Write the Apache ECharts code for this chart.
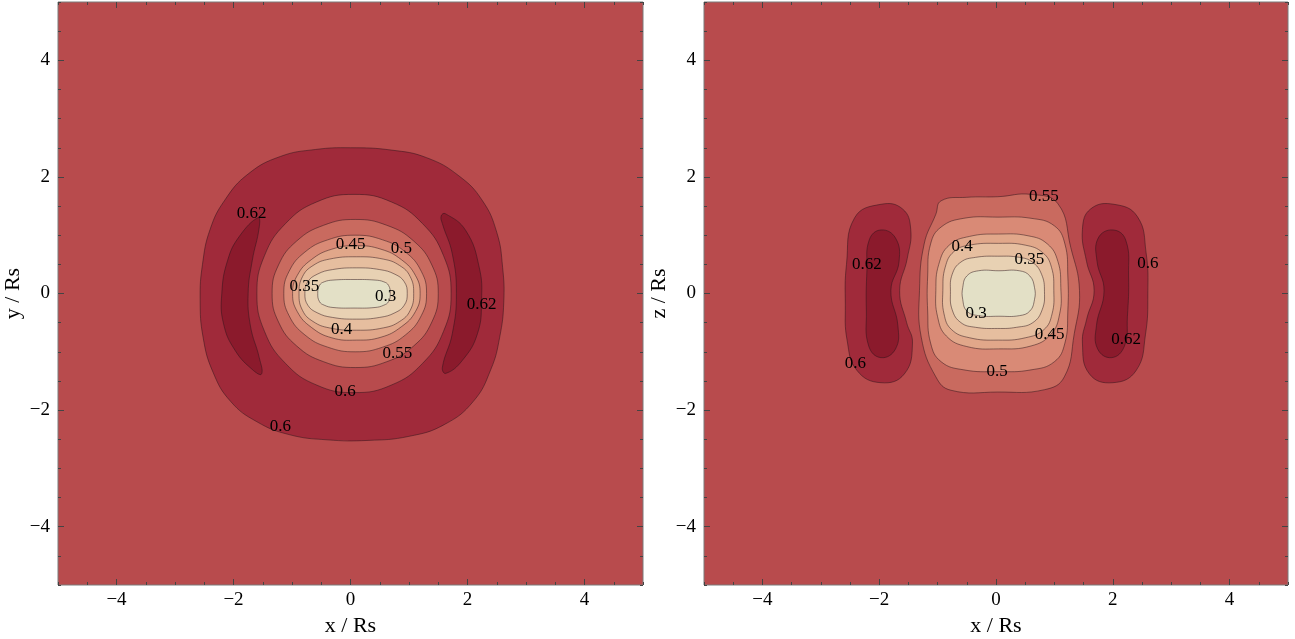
<!DOCTYPE html>
<html><head><meta charset="utf-8">
<script src="https://cdn.jsdelivr.net/npm/echarts@6/dist/echarts.min.js"></script>
<style>html,body{margin:0;padding:0;background:#fff}#c{width:1295px;height:639px}</style>
</head><body><div id="c"></div>
<script>
// ---------- data ----------
const TICK_VALUES = [-4, -2, 0, 2, 4];
const CONTOUR_LEVELS = [0.3, 0.35, 0.4, 0.45, 0.5, 0.55, 0.6, 0.62];

// Left panel (x / Rs vs y / Rs) contour polygons, data units
const L_OUT60 = [[0,2.5],[0.7,2.46],[1.3,2.33],[1.85,2.02],[2.25,1.6],[2.5,1.05],[2.6,0.45],[2.62,-0.15],[2.55,-0.75],[2.4,-1.3],[2.1,-1.85],[1.6,-2.25],[1.0,-2.45],[0.3,-2.52],[-0.4,-2.51],[-1.05,-2.42],[-1.6,-2.2],[-2.05,-1.85],[-2.35,-1.35],[-2.52,-0.75],[-2.57,-0.1],[-2.53,0.5],[-2.4,1.1],[-2.15,1.6],[-1.75,2.05],[-1.2,2.35],[-0.6,2.47]];
const L_CRES_W = [[-1.58,1.3],[-1.9,0.98],[-2.1,0.57],[-2.2,0.0],[-2.17,-0.52],[-1.97,-0.98],[-1.66,-1.32],[-1.52,-1.38],[-1.56,-1.1],[-1.71,-0.56],[-1.75,0],[-1.68,0.56],[-1.56,1.14]];
const L_CRES_E = [[1.55,1.33],[1.62,1.37],[1.97,1.08],[2.2,0.45],[2.24,-0.12],[2.17,-0.69],[1.91,-1.15],[1.63,-1.37],[1.57,-1.27],[1.74,-0.69],[1.81,0],[1.74,0.68],[1.57,1.2]];
const L_IN60 = [[1.72,0],[1.59,0.65],[1.23,1.2],[0.7,1.57],[0.06,1.7],[-0.58,1.57],[-1.11,1.2],[-1.47,0.65],[-1.6,0],[-1.47,-0.65],[-1.11,-1.2],[-0.58,-1.57],[0.06,-1.7],[0.7,-1.57],[1.23,-1.2],[1.59,-0.65]];
const L_55 = [[1.50,0],[1.39,0.49],[1.08,0.90],[0.62,1.17],[0.08,1.27],[-0.46,1.17],[-0.92,0.90],[-1.23,0.49],[-1.34,0],[-1.23,-0.49],[-0.92,-0.90],[-0.46,-1.17],[0.08,-1.27],[0.62,-1.17],[1.08,-0.90],[1.39,-0.49]];
const L_50 = [[1.30,0],[1.21,0.38],[0.94,0.71],[0.55,0.92],[0.08,1.0],[-0.39,0.92],[-0.78,0.71],[-1.05,0.38],[-1.14,0],[-1.05,-0.38],[-0.78,-0.71],[-0.39,-0.92],[0.08,-1.0],[0.55,-0.92],[0.94,-0.71],[1.21,-0.38]];
const L_45 = [[1.19,0],[1.11,0.31],[0.87,0.58],[0.52,0.76],[0.1,0.82],[-0.32,0.76],[-0.67,0.58],[-0.91,0.31],[-0.99,0],[-0.91,-0.31],[-0.67,-0.58],[-0.32,-0.76],[0.1,-0.8],[0.52,-0.75],[0.87,-0.57],[1.11,-0.31]];
const L_40 = [[1.08,0],[1.02,0.29],[0.84,0.48],[0.56,0.59],[0.1,0.63],[-0.36,0.59],[-0.64,0.48],[-0.82,0.29],[-0.88,0],[-0.82,-0.29],[-0.64,-0.48],[-0.36,-0.59],[0.1,-0.63],[0.56,-0.59],[0.84,-0.48],[1.02,-0.29]];
const L_35 = [[0.97,0],[0.92,0.2],[0.76,0.33],[0.5,0.41],[0.1,0.44],[-0.31,0.41],[-0.57,0.33],[-0.73,0.2],[-0.78,0],[-0.73,-0.2],[-0.57,-0.33],[-0.31,-0.41],[0.1,-0.44],[0.5,-0.41],[0.76,-0.33],[0.92,-0.2]];
const L_30 = [[0.68,0],[0.65,0.14],[0.57,0.2],[0.42,0.23],[0.06,0.24],[-0.3,0.23],[-0.45,0.2],[-0.53,0.14],[-0.56,0],[-0.53,-0.14],[-0.45,-0.2],[-0.3,-0.24],[0.06,-0.25],[0.42,-0.24],[0.57,-0.2],[0.65,-0.14]];
const LEFT_SHAPES = [L_OUT60, L_CRES_W, L_CRES_E, L_IN60, L_55, L_50, L_45, L_40, L_35, L_30];
const LEFT_LEVELS = [0.6, 0.62, 0.62, 0.6, 0.55, 0.5, 0.45, 0.4, 0.35, 0.3];
const LEFT_INWARD = ['up', 'up', 'up', 'down', 'down', 'down', 'down', 'down', 'down', 'down'];
const LEFT_LABEL_TEXT = ['0.62', '0.45', '0.5', '0.35', '0.3', '0.62', '0.4', '0.55', '0.6', '0.6'];
const LEFT_LABEL_X = [-1.69, 0.0, 0.87, -0.79, 0.6, 2.24, -0.15, 0.8, -0.09, -1.2];
const LEFT_LABEL_Y = [1.37, 0.84, 0.77, 0.12, -0.05, -0.19, -0.62, -1.03, -1.68, -2.29];

// Right panel (x / Rs vs z / Rs)
const R_LOBE_W60 = [[-1.97,1.53],[-1.6,1.45],[-1.46,1.1],[-1.52,0.6],[-1.65,0.05],[-1.53,-0.5],[-1.43,-0.85],[-1.57,-1.38],[-1.97,-1.53],[-2.38,-1.32],[-2.55,-0.8],[-2.58,-0.2],[-2.56,0.5],[-2.42,1.3]];
const R_LOBE_W62 = [[-1.97,1.09],[-1.72,0.95],[-1.66,0.55],[-1.8,0.05],[-1.68,-0.55],[-1.72,-0.95],[-1.97,-1.1],[-2.18,-0.9],[-2.22,-0.3],[-2.21,0.4],[-2.17,0.92]];
const R_LOBE_E60 = [[2.02,1.53],[2.42,1.32],[2.57,0.7],[2.6,0],[2.56,-0.7],[2.4,-1.32],[2.0,-1.53],[1.6,-1.38],[1.48,-0.85],[1.55,-0.45],[1.68,0.05],[1.55,0.55],[1.48,1.1],[1.62,1.45]];
const R_LOBE_E62 = [[2.0,1.09],[2.22,0.92],[2.27,0.3],[2.25,-0.4],[2.2,-0.9],[1.98,-1.1],[1.74,-0.95],[1.72,-0.55],[1.85,0.05],[1.73,0.55],[1.75,0.95]];
const R_55 = [[0.03,1.66],[0.6,1.70],[1.06,1.54],[1.28,0.79],[1.43,0.05],[1.34,-0.69],[1.17,-1.43],[0.83,-1.65],[0.03,-1.69],[-0.77,-1.66],[-1.03,-1.43],[-1.28,-0.75],[-1.31,0.05],[-1.23,0.85],[-1.03,1.36],[-0.94,1.59],[-0.5,1.65]];
const R_50 = [[0.03,1.31],[0.6,1.29],[1.0,1.16],[1.18,0.85],[1.23,0.3],[1.23,-0.3],[1.18,-0.85],[1.0,-1.17],[0.6,-1.31],[0.03,-1.34],[-0.55,-1.31],[-0.94,-1.17],[-1.12,-0.85],[-1.17,-0.3],[-1.17,0.3],[-1.12,0.85],[-0.94,1.14],[-0.55,1.29]];
const R_45 = [[0.04,1.02],[0.55,0.99],[0.88,0.85],[1.06,0.55],[1.11,0.1],[1.09,-0.35],[0.94,-0.70],[0.6,-0.9],[0.04,-0.95],[-0.5,-0.91],[-0.85,-0.73],[-1.0,-0.4],[-1.03,0.05],[-0.98,0.5],[-0.8,0.83],[-0.45,0.98]];
const R_40 = [[0.04,0.86],[0.5,0.83],[0.8,0.7],[0.95,0.45],[0.99,0.05],[0.96,-0.35],[0.82,-0.62],[0.5,-0.76],[0.04,-0.8],[-0.45,-0.76],[-0.76,-0.62],[-0.89,-0.35],[-0.91,0.05],[-0.87,0.45],[-0.72,0.72],[-0.45,0.83]];
const R_35 = [[0.03,0.64],[0.4,0.62],[0.62,0.54],[0.78,0.33],[0.83,0.03],[0.79,-0.28],[0.63,-0.5],[0.35,-0.58],[0.03,-0.6],[-0.35,-0.58],[-0.6,-0.5],[-0.75,-0.28],[-0.78,0.03],[-0.75,0.33],[-0.6,0.54],[-0.35,0.62]];
const R_30 = [[0.05,0.39],[0.4,0.39],[0.58,0.3],[0.66,0.1],[0.66,-0.1],[0.58,-0.3],[0.4,-0.38],[0.05,-0.39],[-0.3,-0.38],[-0.5,-0.3],[-0.57,-0.1],[-0.57,0.1],[-0.5,0.3],[-0.3,0.39]];
const RIGHT_SHAPES = [R_LOBE_W60, R_LOBE_W62, R_LOBE_E60, R_LOBE_E62, R_55, R_50, R_45, R_40, R_35, R_30];
const RIGHT_LEVELS = [0.6, 0.62, 0.6, 0.62, 0.55, 0.5, 0.45, 0.4, 0.35, 0.3];
const RIGHT_INWARD = ['up', 'up', 'up', 'up', 'down', 'down', 'down', 'down', 'down', 'down'];
const RIGHT_LABEL_TEXT = ['0.55', '0.4', '0.62', '0.35', '0.6', '0.3', '0.45', '0.62', '0.6', '0.5'];
const RIGHT_LABEL_X = [0.82, -0.58, -2.21, 0.57, 2.6, -0.34, 0.92, 2.23, -2.41, 0.02];
const RIGHT_LABEL_Y = [1.66, 0.80, 0.50, 0.58, 0.51, -0.34, -0.70, -0.79, -1.2, -1.34];

// ---------- style ----------
const BAND_COLORS = ['#E3E0C6', '#E8D1B3', '#E6BE9F', '#E1A78A', '#D98A76', '#C96A5F', '#B84B4D', '#A02A3A', '#8B1A2C'];
const LINE_COLOR = 'rgba(45,20,25,0.5)';
const FONT = '"Liberation Serif", "DejaVu Serif", serif';

function colorFor(v) {
  let idx = 0;
  CONTOUR_LEVELS.forEach(l => { if (v > l) idx++; });
  return BAND_COLORS[idx];
}
function fmt(v) { return v < 0 ? '\u2212' + Math.abs(v) : String(v); }

function contourSeries(g, shapes, levels, inward) {
  return {
    type: 'custom', xAxisIndex: g * 4, yAxisIndex: g * 4, silent: true, z: 2,
    data: shapes.map((s, i) => ({ value: [s[0][0], s[0][1]] })),
    renderItem: function (params, api) {
      const i = params.dataIndex;
      const pts = shapes[i].map(p => api.coord(p));
      const v = levels[i] + (inward[i] === 'up' ? 0.001 : -0.001);
      return {
        type: 'polygon',
        shape: { points: pts, smooth: 0.45 },
        style: { fill: colorFor(v), stroke: LINE_COLOR, lineWidth: 1 }
      };
    }
  };
}
function labelSeries(g, xs, ys, texts) {
  return {
    type: 'custom', xAxisIndex: g * 4, yAxisIndex: g * 4, silent: true, z: 3,
    data: xs.map((x, i) => [x, ys[i]]),
    renderItem: function (params, api) {
      const p = api.coord([api.value(0), api.value(1)]);
      return {
        type: 'text', x: p[0], y: p[1],
        style: { text: texts[params.dataIndex], fill: '#000', font: '17px ' + FONT, align: 'center', verticalAlign: 'middle' }
      };
    }
  };
}

function axisSet(dim, g, name) {
  const posMain = dim === 'x' ? 'bottom' : 'left';
  const posOpp = dim === 'x' ? 'top' : 'right';
  const base = { gridIndex: g, type: 'value', min: -5, max: 5, interval: 0.5, splitLine: { show: false }, axisLine: { show: false, onZero: false } };
  const tickStyle = { color: '#444', width: 1 };
  const arr = [];
  arr.push(Object.assign({}, base, {
    position: posMain,
    axisTick: { show: true, inside: true, length: 3, lineStyle: tickStyle },
    axisLabel: { show: true, customValues: TICK_VALUES, formatter: fmt, fontFamily: FONT, fontSize: 19, color: '#000', margin: dim === 'x' ? 6 : 8 },
    name: name, nameLocation: 'middle', nameGap: dim === 'x' ? 23 : 34,
    nameTextStyle: { fontFamily: FONT, fontSize: 22, color: '#000' }
  }));
  arr.push(Object.assign({}, base, {
    position: posMain,
    axisTick: { show: true, inside: true, length: 6, customValues: TICK_VALUES, lineStyle: tickStyle },
    axisLabel: { show: false }
  }));
  arr.push(Object.assign({}, base, {
    position: posOpp,
    axisTick: { show: true, inside: true, length: 3, lineStyle: tickStyle },
    axisLabel: { show: false }
  }));
  arr.push(Object.assign({}, base, {
    position: posOpp,
    axisTick: { show: true, inside: true, length: 6, customValues: TICK_VALUES, lineStyle: tickStyle },
    axisLabel: { show: false }
  }));
  return arr;
}

const chart = echarts.init(document.getElementById('c'), null, { renderer: 'canvas' });
chart.setOption({
  animation: false,
  backgroundColor: '#ffffff',
  grid: [
    { left: 58, top: 2, width: 585, height: 583, outerBoundsMode: 'none', containLabel: false, show: true, backgroundColor: BAND_COLORS[6], borderColor: '#7a7a7a', borderWidth: 1, z: 0 },
    { left: 704, top: 2, width: 584, height: 583, outerBoundsMode: 'none', containLabel: false, show: true, backgroundColor: BAND_COLORS[6], borderColor: '#7a7a7a', borderWidth: 1, z: 0 }
  ],
  xAxis: [].concat(axisSet('x', 0, 'x / Rs'), axisSet('x', 1, 'x / Rs')),
  yAxis: [].concat(axisSet('y', 0, 'y / Rs'), axisSet('y', 1, 'z / Rs')),
  series: [
    contourSeries(0, LEFT_SHAPES, LEFT_LEVELS, LEFT_INWARD),
    labelSeries(0, LEFT_LABEL_X, LEFT_LABEL_Y, LEFT_LABEL_TEXT),
    contourSeries(1, RIGHT_SHAPES, RIGHT_LEVELS, RIGHT_INWARD),
    labelSeries(1, RIGHT_LABEL_X, RIGHT_LABEL_Y, RIGHT_LABEL_TEXT)
  ]
});
</script>
</body></html>
